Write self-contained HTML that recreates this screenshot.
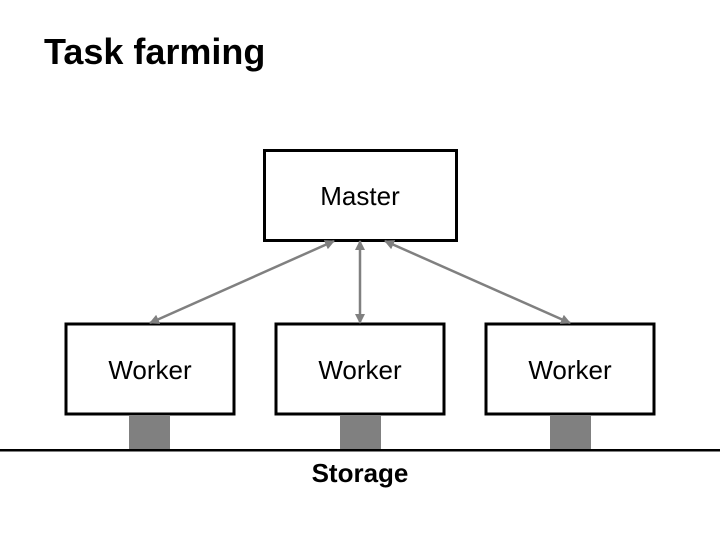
<!DOCTYPE html>
<html><head><meta charset="utf-8"><style>
html,body{margin:0;padding:0;background:#fff;width:720px;height:540px;overflow:hidden}
</style></head><body>
<svg width="720" height="540" viewBox="0 0 720 540" xmlns="http://www.w3.org/2000/svg" font-family="Liberation Sans, Arial, sans-serif">
<defs>
<marker id="a" viewBox="0 0 10 10" refX="9" refY="5" markerWidth="4" markerHeight="4" orient="auto-start-reverse">
<path d="M0,0 L10,5 L0,10 z" fill="#808080"/></marker>
</defs>
<text x="44" y="64" font-size="36" font-weight="bold">Task farming</text>
<rect x="264.5" y="150.5" width="192" height="90" fill="#fff" stroke="#000" stroke-width="3"/>
<text x="360" y="205" font-size="26" text-anchor="middle">Master</text>
<g fill="#fff" stroke="#000" stroke-width="3">
<rect x="66" y="324" width="168" height="90"/>
<rect x="276" y="324" width="168" height="90"/>
<rect x="486" y="324" width="168" height="90"/>
</g>
<g font-size="26" text-anchor="middle">
<text x="150" y="379">Worker</text>
<text x="360" y="379">Worker</text>
<text x="570" y="379">Worker</text>
</g>
<g fill="#808080">
<rect x="129" y="415" width="41" height="34"/>
<rect x="340" y="415" width="41" height="34"/>
<rect x="550" y="415" width="41" height="34"/>
</g>
<rect x="0" y="449" width="720" height="2.5" fill="#000"/>
<g stroke="#808080" stroke-width="2.5" marker-start="url(#a)" marker-end="url(#a)">
<line x1="334" y1="241" x2="150" y2="323"/>
<line x1="360" y1="241" x2="360" y2="323"/>
<line x1="385" y1="241" x2="570" y2="323"/>
</g>
<text x="360" y="482" font-size="26" font-weight="bold" text-anchor="middle">Storage</text>
</svg>
</body></html>
